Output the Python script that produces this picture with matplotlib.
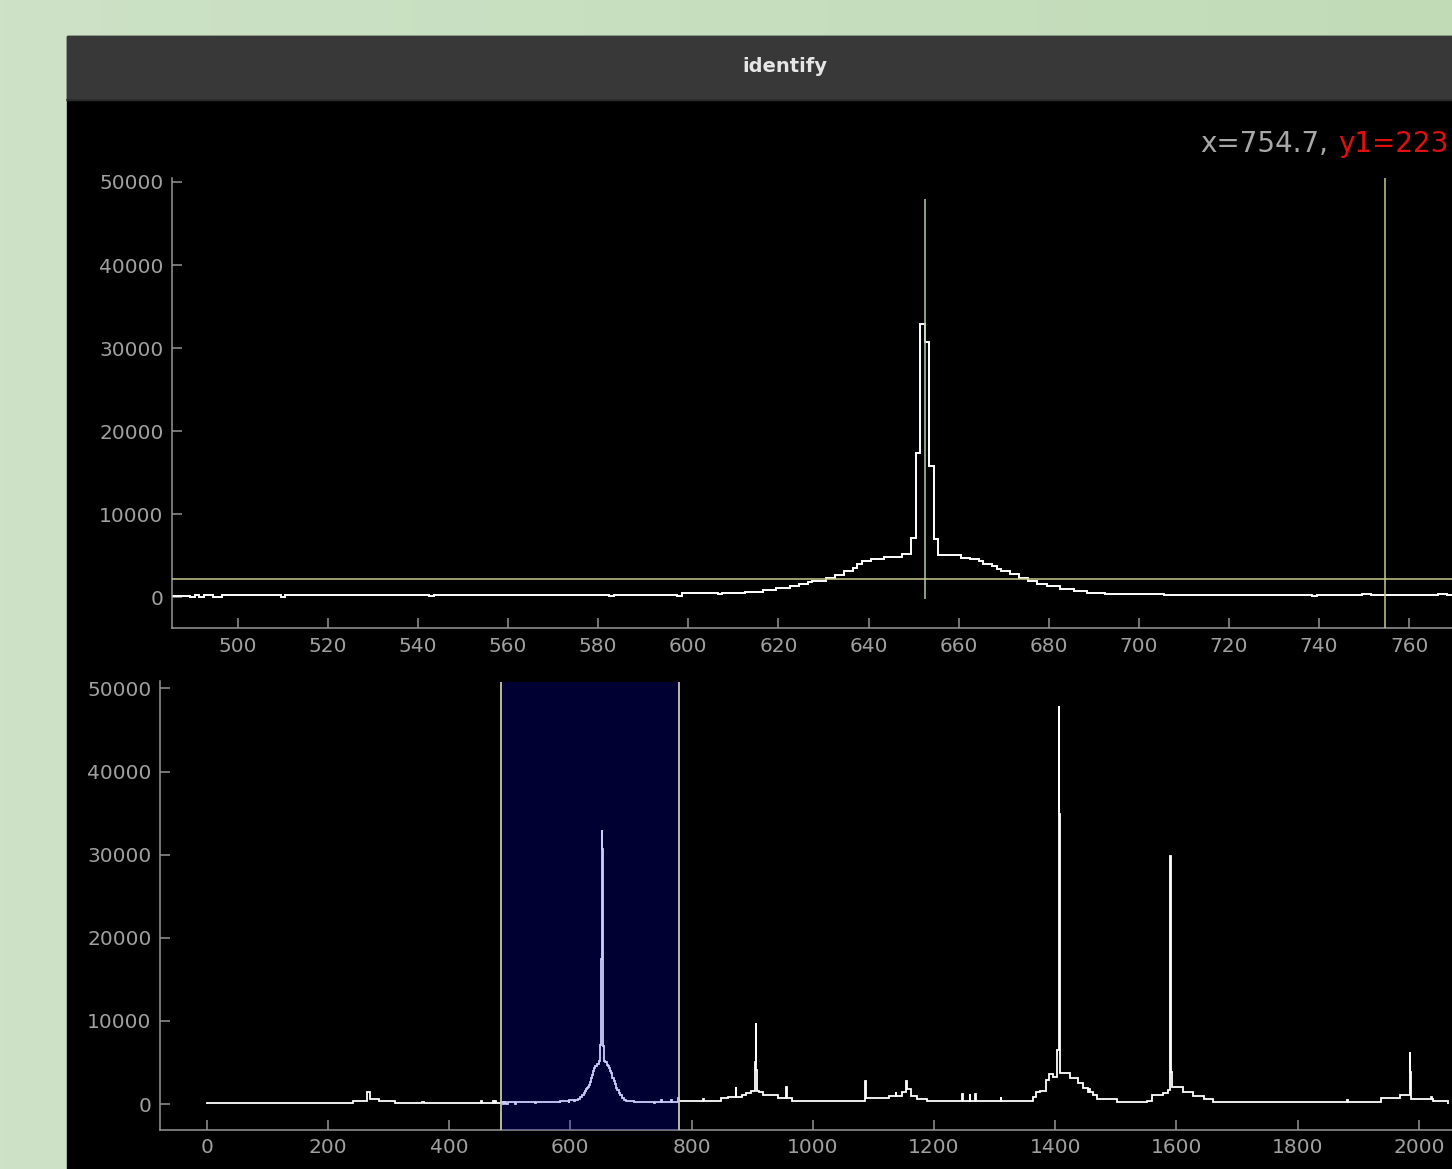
import matplotlib
matplotlib.use('Agg')
import numpy as np
import matplotlib.pyplot as plt
from matplotlib.patches import Rectangle
from matplotlib.colors import LinearSegmentedColormap

# Espectro: inicio de cada escalón (pixel) y cuentas del escalón
seg_start = [0, 241, 265, 270, 285, 310, 356, 359, 452, 454, 472, 474, 476, 478,
             485.5, 489.5, 490.5, 491.5, 492.5, 494.5, 496.5, 509.5, 510.5, 542.5,
             543.5, 582.5, 583.5, 597.5, 598.5, 606.5, 607.5, 612.5, 616.5, 619.5,
             622.5, 624.5, 626.5, 627.5, 629.5, 630.5, 632.5, 634.5, 636.5, 637.5,
             638.5, 640.5, 643.5, 647.5, 649.5, 650.5, 651.5, 652.5, 653.5, 654.5,
             655.5, 656.5, 660.5, 662.5, 664.5, 665.5, 667.5, 668.5, 669.5, 671.5,
             673.5, 675.5, 677.5, 679.5, 682.5, 685.5, 688.5, 692.5, 705.5, 738.5,
             739.5, 749.5, 751.5, 766.5, 768.5, 777.5, 779.5,
             819, 821, 848, 860, 873, 874, 883, 890, 898, 905, 906, 907, 908, 912,
             918, 942, 956, 957, 965, 1086, 1087, 1125, 1137, 1138, 1148, 1154,
             1155, 1162, 1172, 1188, 1247, 1248, 1259, 1260, 1268, 1269, 1310, 1311,
             1363, 1368, 1375, 1385, 1389, 1396, 1403, 1406, 1407, 1408, 1424, 1437,
             1445, 1454, 1456, 1457, 1462, 1469, 1502, 1552, 1560, 1577, 1586, 1589,
             1590, 1591, 1592, 1610, 1627, 1645, 1661, 1882, 1883, 1937, 1968, 1985,
             1986, 1987, 2020, 2021, 2024]
seg_counts = [150, 400, 1500, 600, 350, 150, 300, 150, 400, 150, 350, 150, 350, 150,
              200, 0, 220, 0, 220, 0, 280, 0, 280, 150,
              280, 150, 330, 150, 520, 400, 520, 640, 850, 1120,
              1330, 1600, 1810, 1930, 2020, 2330, 2660, 3140, 3540, 3950,
              4350, 4550, 4830, 5230, 7160, 17430, 32930, 30700, 15820, 6960,
              5150, 5050, 4750, 4550, 4350, 4000, 3750, 3450, 3150, 2800,
              2350, 1950, 1650, 1330, 1050, 720, 520, 400, 300, 180,
              300, 450, 300, 450, 300, 700, 400,
              600, 400, 700, 840, 2080, 840, 1100, 1300, 1600, 5100, 9700, 4100, 1600, 1400,
              1080, 690, 2080, 720, 400, 2800, 700, 1000, 1480, 1000, 1500, 2760,
              1800, 1000, 600, 400, 1200, 400, 1200, 400, 1200, 400, 800, 400,
              880, 1440, 1600, 2880, 3570, 3280, 6500, 47900, 34900, 3690, 3090, 2520,
              1960, 1440, 1770, 1440, 1080, 570, 280, 400, 1080, 1320, 1680, 22500,
              29800, 3880, 2080, 1440, 960, 570, 280, 500, 280, 680, 1080, 6280,
              3880, 570, 800, 570, 400]
spec_end = 2048

y_ticks = [0, 10000, 20000, 30000, 40000, 50000]
top_xticks = list(range(500, 761, 20))
bottom_xticks = list(range(0, 2001, 200))

region = [486, 780]          # región seleccionada (vista superior)
cursor_x = 754.7             # cursor del ratón
cursor_y = 2235
line_x = 652.6               # línea identificada
line_top = 48000

W, H = 1452, 1169


def px_box(l, t, r, b):
    return [l / W, 1 - b / H, (r - l) / W, (b - t) / H]


fig = plt.figure(figsize=(W / 100, H / 100), dpi=100)

# Fondo verde y ventana
bg = fig.add_axes([0, 0, 1, 1], zorder=-5)
grad = np.linspace(0, 1, 256).reshape(1, -1)
cmap = LinearSegmentedColormap.from_list('g', ['#cde2c6', '#c1dbb7'])
bg.imshow(grad, extent=[0, W, H, 0], aspect='auto', cmap=cmap)
bg.set_xlim(0, W)
bg.set_ylim(H, 0)
bg.add_patch(Rectangle((67, 36), W - 67, H - 36, color='black'))
bg.add_patch(Rectangle((67, 36), W - 67, 64, color='#383838'))
bg.plot([67, W], [100, 100], color='#2a2a2a', lw=1.2)
bg.text(785, 67, 'identify', color='#e6e6e6', fontsize=14, fontweight='bold',
        ha='center', va='center')
bg.axis('off')

edges = seg_start + [spec_end]

axis_col = '#969696'
label_col = '#a0a0a0'


def style(ax):
    ax.set_facecolor('black')
    for s in ['top', 'right']:
        ax.spines[s].set_visible(False)
    for s in ['left', 'bottom']:
        ax.spines[s].set_color(axis_col)
        ax.spines[s].set_linewidth(1.1)
    ax.tick_params(direction='in', length=7, width=1.1, color=axis_col,
                   labelcolor=label_col, labelsize=14.5, pad=6)
    ax.set_yticks(y_ticks)


# Vista ampliada (arriba)
ax1 = fig.add_axes(px_box(172, 178, W, 628.3))
style(ax1)
ax1.stairs(seg_counts, edges, color='white', lw=1.4, zorder=2)
ax1.axhline(cursor_y, color='#c8c88c', lw=1.1, zorder=3)
ax1.axvline(cursor_x, color='#c8c88c', lw=1.1, zorder=3)
ax1.vlines(line_x, -200, line_top, color='#b0d0a0', lw=1.1, zorder=3)
ax1.set_xticks(top_xticks)
ax1.set_xlim(485.4, 769.5)
ax1.set_ylim(-3735, 50480)

# Espectro completo (abajo)
ax2 = fig.add_axes(px_box(160, 681.5, W, 1130))
style(ax2)
ax2.stairs(seg_counts, edges, color='white', lw=1.3, zorder=2)
ax2.axvspan(region[0], region[1], color=(0, 0, 1, 0.2), lw=0, zorder=3)
ax2.axvline(region[0], color='#c8c8a0', lw=1.3, zorder=4)
ax2.axvline(region[1], color='#c8c8b4', lw=1.3, zorder=4)
ax2.set_xticks(bottom_xticks)
ax2.set_xlim(-77, 2054.6)
ax2.set_ylim(-3125, 50841)

# Etiqueta del cursor (la ventana la recorta en el borde derecho)
t1 = fig.text(1200 / W, 1 - 152 / H, 'x=%0.1f,' % cursor_x, color='#a8a8a8',
              fontsize=20, va='baseline')
fig.canvas.draw()
bb = t1.get_window_extent(fig.canvas.get_renderer())
fig.text((bb.x1 + 10) / W, 1 - 152 / H, 'y1=223', color='#e01010',
         fontsize=20, va='baseline')

fig.savefig('out.png', dpi=100)
